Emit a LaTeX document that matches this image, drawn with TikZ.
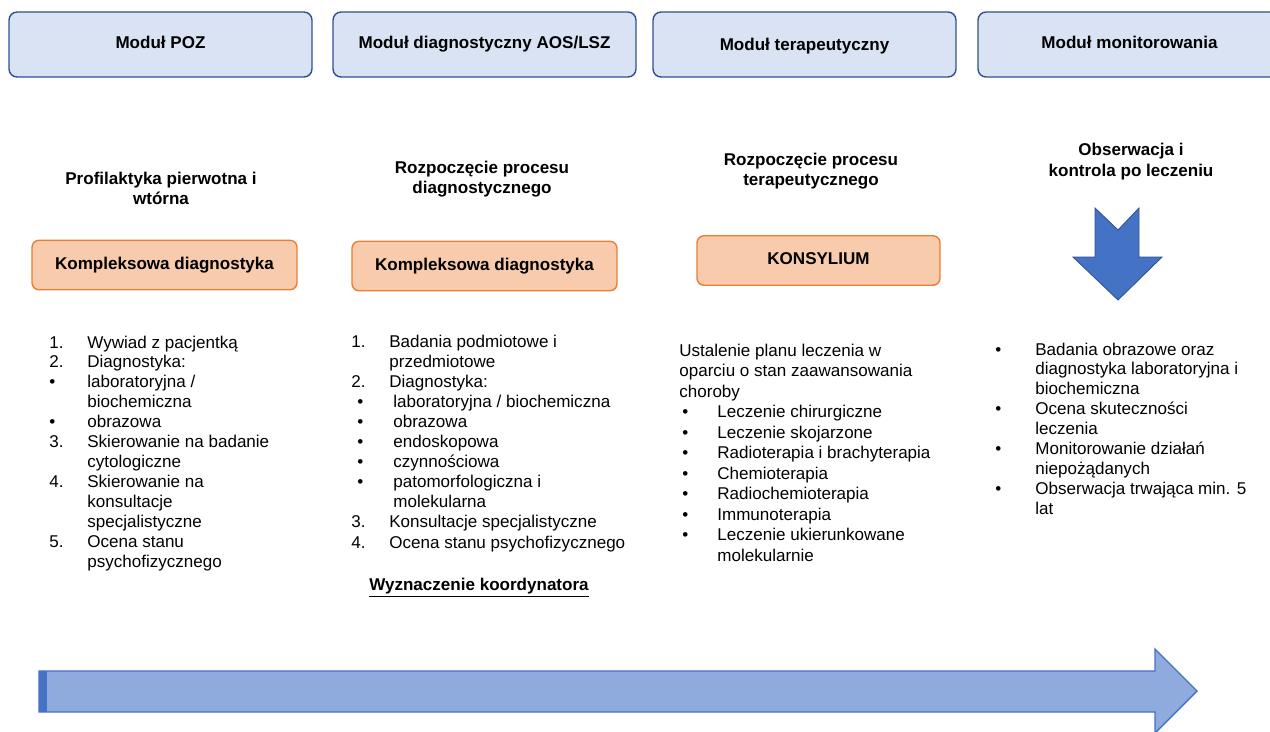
\documentclass[tikz,border=0pt]{standalone}
\usepackage{fontspec}
\setmainfont{Liberation Sans}
\definecolor{modfill}{HTML}{DAE3F3}
\definecolor{modline}{HTML}{2F528F}
\definecolor{stepfill}{HTML}{F8CBAD}
\definecolor{stepline}{HTML}{ED7D31}
\definecolor{arrdark}{HTML}{4472C4}
\definecolor{arrlight}{HTML}{8FAADC}
\newcommand{\bodysize}{\fontsize{9.7}{11.5}\selectfont}
\begin{document}
\begin{tikzpicture}[x=0.02cm,y=-0.02cm,
  modbox/.style={draw=modline, fill=modfill, line width=0.8pt, rounded corners=0.16cm,
    minimum width=6.06cm, minimum height=1.3cm, inner sep=0, text height=7pt, text depth=2pt,
    font=\bfseries\bodysize},
  stepbox/.style={draw=stepline, fill=stepfill, line width=0.8pt, rounded corners=0.14cm,
    minimum height=0.99cm, inner sep=0, text height=7pt, text depth=2pt, font=\bfseries\bodysize},
  headtxt/.style={align=center, inner sep=0, font=\bfseries\bodysize},
  ltxt/.style={anchor=base west, inner sep=0, font=\bodysize},
  lbl/.style={anchor=base west, inner sep=0, font=\bodysize}]
\useasboundingbox (0,0) rectangle (1270,731);
\clip (0,0) rectangle (1270,731);

% module headers
\node[modbox] (m1) at (160.5,44.5) {Moduł POZ};
\node[modbox] (m2) at (484.5,44.5) {Moduł diagnostyczny AOS/LSZ};
\node[modbox] (m3) at (804.5,44.5) {\raisebox{-1.1pt}{Moduł terapeutyczny}};
\node[modbox] (m4) at (1129.5,44.5) {Moduł monitorowania};

% stage titles
\node[headtxt] (h1) at (161,188.5) {Profilaktyka pierwotna i\\wtórna};
\node[headtxt] (h2) at (482,179) {Rozpoczęcie procesu\\diagnostycznego};
\node[headtxt] (h3) at (811,171) {Rozpoczęcie procesu\\terapeutycznego};
\node[headtxt] (h4) at (1131,161.5) {Obserwacja i\\kontrola po leczeniu};

% key steps
\node[stepbox, minimum width=5.3cm] (s1) at (164.5,265) {Kompleksowa diagnostyka};
\node[stepbox, minimum width=5.3cm] (s2) at (484.5,266) {Kompleksowa diagnostyka};
\node[stepbox, minimum width=4.86cm] (s3) at (818.5,260.5) {KONSYLIUM};

% monitoring arrow
\draw[draw=modline, fill=arrdark, line width=0.5pt, line join=miter]
  (1095,208) -- (1118,230) -- (1139,208) -- (1139,257) -- (1162,257)
  -- (1118,300) -- (1073,257) -- (1095,257) -- cycle;

% column 1: POZ
\foreach \r/\tt in {0/{Wywiad z pacjentką}, 1/{Diagnostyka:}, 2/{laboratoryjna /},
  3/{biochemiczna}, 4/{obrazowa}, 5/{Skierowanie na badanie}, 6/{cytologiczne},
  7/{Skierowanie na}, 8/{konsultacje}, 9/{specjalistyczne}, 10/{Ocena stanu},
  11/{psychofizycznego}}
  \node[ltxt] (a-t\r) at (87,348+19.95*\r) {\tt};
\foreach \r/\lb in {0/1., 1/2., 2/•, 4/•, 5/3., 7/4., 10/5.}
  \node[lbl] (a-l\r) at (49,348+19.95*\r) {\lb};

% column 2: AOS/LSZ
\foreach \r/\x/\tt in {0/389/{Badania podmiotowe i}, 1/389/{przedmiotowe},
  2/389/{Diagnostyka:}, 3/393/{laboratoryjna / biochemiczna}, 4/393/{obrazowa},
  5/393/{endoskopowa}, 6/393/{czynnościowa}, 7/393/{patomorfologiczna i},
  8/393/{molekularna}, 9/389/{Konsultacje specjalistyczne},
  10/389/{Ocena stanu psychofizycznego}}
  \node[ltxt] (b-t\r) at (\x,347+20.1*\r) {\tt};
\foreach \r/\x/\lb in {0/351/1., 2/351/2., 3/357/•, 4/357/•, 5/357/•, 6/357/•,
  7/357/•, 9/351/3., 10/351/4.}
  \node[lbl] (b-l\r) at (\x,347+20.1*\r) {\lb};
\node[headtxt] (coord) at (479,588) {\underline{Wyznaczenie koordynatora}};

% column 3: therapy
\foreach \r/\x/\tt in {0/679/{Ustalenie planu leczenia w},
  1/679/{oparciu o stan zaawansowania}, 2/679/{choroby},
  3/717/{Leczenie chirurgiczne}, 4/717/{Leczenie skojarzone},
  5/717/{Radioterapia i brachyterapia}, 6/717/{Chemioterapia},
  7/717/{Radiochemioterapia}, 8/717/{Immunoterapia},
  9/717/{Leczenie ukierunkowane}, 10/717/{molekularnie}}
  \node[ltxt] (c-t\r) at (\x,356+20.55*\r) {\tt};
\foreach \r in {3,...,9}
  \node[lbl] (c-l\r) at (682,356+20.55*\r) {•};

% column 4: monitoring
\foreach \r/\tt in {0/{Badania obrazowe oraz}, 1/{diagnostyka laboratoryjna i},
  2/{biochemiczna}, 3/{Ocena skuteczności}, 4/{leczenia},
  5/{Monitorowanie działań}, 6/{niepożądanych},
  7/{Obserwacja trwająca min. 5}, 8/{lat}}
  \node[ltxt] (d-t\r) at (1035,355+19.95*\r) {\tt};
\foreach \r in {0,3,5,7}
  \node[lbl] (d-l\r) at (995,355+19.95*\r) {•};

% timeline arrow
\draw[draw=arrdark, fill=arrlight, line width=0.8pt, line join=miter]
  (39,671) -- (1155,671) -- (1155,649) -- (1197,691) -- (1155,733)
  -- (1155,712) -- (39,712) -- cycle;
\fill[arrdark] (39,671) rectangle (47,712);
\end{tikzpicture}
\end{document}
